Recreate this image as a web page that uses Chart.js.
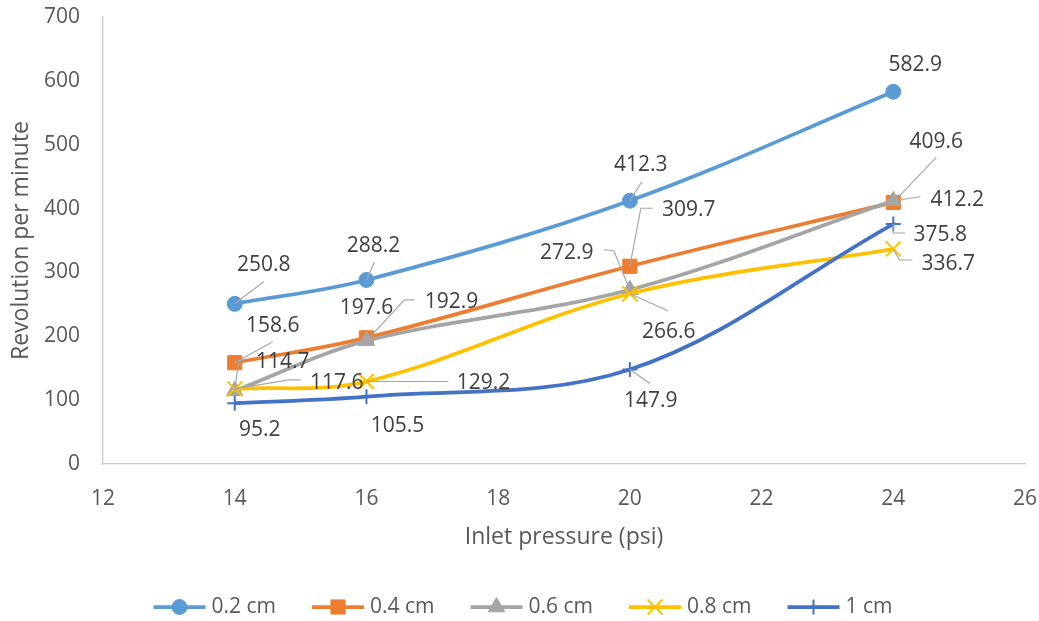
<!DOCTYPE html>
<html>
<head>
<meta charset="utf-8">
<script src="https://cdn.jsdelivr.net/npm/chart.js@4.4.1/dist/chart.umd.min.js"></script>
<style>
  html, body { margin: 0; padding: 0; background: #ffffff; }
  #wrap { width: 1039px; height: 621px; position: relative; }
</style>
</head>
<body>
<div id="wrap"><canvas id="c" width="1039" height="621"></canvas></div>
<script>
// Measured rotor speed against inlet pressure, one series per nozzle size
const pressures = [14, 16, 20, 24];
const seriesNames = ['0.2 cm', '0.4 cm', '0.6 cm', '0.8 cm', '1 cm'];
const rpm02 = [250.8, 288.2, 412.3, 582.9];
const rpm04 = [158.6, 197.6, 309.7, 409.6];
const rpm06 = [114.7, 192.9, 272.9, 412.2];
const rpm08 = [117.6, 129.2, 266.6, 336.7];
const rpm10 = [95.2, 105.5, 147.9, 375.8];
const xTickValues = [12, 14, 16, 18, 20, 22, 24, 26];
const yTickValues = [0, 100, 200, 300, 400, 500, 600, 700];

const seriesValues = [rpm02, rpm04, rpm06, rpm08, rpm10];

// Appearance of each series
const seriesStyles = [
  { color: '#5B9BD5', pointStyle: 'circle',   radius: 7.5,  borderWidth: 1 },
  { color: '#ED7D31', pointStyle: 'rect',     radius: 10,   borderWidth: 1 },
  { color: '#A5A5A5', pointStyle: 'triangle', radius: 9.5,  borderWidth: 1 },
  { color: '#FFC000', pointStyle: 'crossRot', radius: 10.5, borderWidth: 2 },
  { color: '#4472C4', pointStyle: 'cross',    radius: 7.5,  borderWidth: 2 }
];

// Value-label placement: text centre offset from its point, plus optional leader-line bends
const labelLayout = [
  [ { dx: 29, dy: -39, lead: [[29, -22]] },
    { dx: 7,  dy: -34, lead: [[8, -18]] },
    { dx: 11, dy: -36, lead: [[12, -19]] },
    { dx: 22, dy: -27, lead: null } ],
  [ { dx: 38, dy: -37, lead: [[38, -21]] },
    { dx: 0,  dy: -30, lead: null },
    { dx: 59, dy: -56, lead: [[11, -58], [23, -58]] },
    { dx: 43, dy: -60, lead: [[43, -45]] } ],
  [ { dx: 48, dy: -29, lead: [[4, -30], [9, -31]] },
    { dx: 85, dy: -39, lead: [[38, -41], [48, -41]] },
    { dx: -63, dy: -37, lead: [[-16, -39], [-26, -40]] },
    { dx: 64, dy: -1, lead: [[27, -4]] } ],
  [ { dx: 102, dy: -6, lead: [[54, -9], [66, -9]] },
    { dx: 117, dy: 2, lead: [[82, 0]] },
    { dx: 39, dy: 38, lead: [[38, 17]] },
    { dx: 55, dy: 15, lead: [[6, 11], [19, 11]] } ],
  [ { dx: 25, dy: 27, lead: null },
    { dx: 31, dy: 29, lead: null },
    { dx: 21, dy: 31, lead: [[20, 14]] },
    { dx: 47, dy: 11, lead: [[0, 9], [12, 9]] } ]
];

const FONT = "'Open Sans', 'Liberation Sans', Arial, sans-serif";
const TEXT_DARK = '#404040';
const TEXT_AXIS = '#595959';
const HIDDEN = 'rgba(0,0,0,0)';

const datasets = seriesNames.map((name, i) => ({
  label: name,
  data: pressures.map((p, j) => ({ x: p, y: seriesValues[i][j] })),
  borderColor: seriesStyles[i].color,
  backgroundColor: seriesStyles[i].color,
  borderWidth: 3.75,
  tension: 0.35,
  fill: false,
  pointStyle: seriesStyles[i].pointStyle,
  pointRadius: seriesStyles[i].radius,
  pointHoverRadius: seriesStyles[i].radius,
  pointBorderWidth: seriesStyles[i].borderWidth,
  pointBackgroundColor: seriesStyles[i].color,
  pointBorderColor: seriesStyles[i].color,
  order: seriesNames.length - i,
  clip: false
}));

function drawMarker(ctx, style, x, y) {
  ctx.save();
  ctx.fillStyle = style.color;
  ctx.strokeStyle = style.color;
  ctx.lineWidth = style.borderWidth;
  Chart.helpers.drawPoint(ctx, {
    pointStyle: style.pointStyle,
    radius: style.radius,
    rotation: 0,
    borderWidth: style.borderWidth
  }, x, y);
  ctx.restore();
}

// Value labels with grey leader lines
const valueLabels = {
  id: 'valueLabels',
  afterDatasetsDraw(chart) {
    const ctx = chart.ctx;
    ctx.save();
    chart.data.datasets.forEach((ds, i) => {
      const meta = chart.getDatasetMeta(i);
      meta.data.forEach((pt, j) => {
        const place = labelLayout[i][j];
        const x = pt.x, y = pt.y;
        if (place.lead) {
          ctx.beginPath();
          ctx.strokeStyle = '#A6A6A6';
          ctx.lineWidth = 1.2;
          ctx.moveTo(x, y);
          place.lead.forEach(([lx, ly]) => ctx.lineTo(x + lx, y + ly));
          ctx.stroke();
        }
        ctx.fillStyle = TEXT_DARK;
        ctx.font = '21px ' + FONT;
        ctx.textAlign = 'center';
        ctx.textBaseline = 'middle';
        ctx.fillText(ds.data[j].y.toFixed(1), x + place.dx, y + place.dy);
      });
    });
    ctx.restore();
  }
};

// Legend: short line with the series marker, then the series name
const lineLegend = {
  id: 'lineLegend',
  afterDraw(chart) {
    const ctx = chart.ctx;
    ctx.save();
    ctx.font = '21px ' + FONT;
    const lineLen = 52, textGap = 6, itemGap = 36;
    const widths = seriesNames.map(n => lineLen + textGap + ctx.measureText(n).width);
    const total = widths.reduce((a, b) => a + b, 0) + itemGap * (seriesNames.length - 1);
    let x = 523 - total / 2;
    const y = 607;
    seriesNames.forEach((name, i) => {
      const st = seriesStyles[i];
      ctx.beginPath();
      ctx.strokeStyle = st.color;
      ctx.lineWidth = 3.75;
      ctx.moveTo(x, y);
      ctx.lineTo(x + lineLen, y);
      ctx.stroke();
      drawMarker(ctx, st, x + lineLen / 2, y);
      ctx.fillStyle = TEXT_AXIS;
      ctx.textAlign = 'left';
      ctx.textBaseline = 'middle';
      ctx.fillText(name, x + lineLen + textGap, y);
      x += widths[i] + itemGap;
    });
    ctx.restore();
  }
};

new Chart(document.getElementById('c'), {
  type: 'line',
  data: { datasets },
  plugins: [valueLabels, lineLegend],
  options: {
    responsive: false,
    animation: false,
    events: [],
    layout: { autoPadding: false, padding: { top: 17, right: 14, bottom: 0, left: 0 } },
    plugins: {
      legend: { display: false },
      tooltip: { enabled: false },
      title: { display: false }
    },
    scales: {
      x: {
        type: 'linear',
        min: 12,
        max: 26,
        afterBuildTicks: s => { s.ticks = xTickValues.map(v => ({ value: v })); },
        afterFit: s => { s.height = 157; },
        grid: { display: true, drawOnChartArea: false, color: HIDDEN, tickColor: HIDDEN, drawTicks: true, tickLength: 22 },
        border: { display: true, color: '#C9C9C9', width: 1.3 },
        ticks: { font: { family: FONT, size: 21 }, color: TEXT_AXIS, padding: 0, maxRotation: 0, autoSkip: false },
        title: {
          display: true,
          text: 'Inlet pressure (psi)',
          font: { family: FONT, size: 23 },
          color: TEXT_AXIS,
          padding: { top: 0, bottom: 70 }
        }
      },
      y: {
        type: 'linear',
        min: 0,
        max: 700,
        afterBuildTicks: s => { s.ticks = yTickValues.map(v => ({ value: v })); },
        afterFit: s => { s.width = 103; },
        grid: { display: true, drawOnChartArea: false, color: HIDDEN, tickColor: HIDDEN, drawTicks: true, tickLength: 23 },
        border: { display: true, color: '#C9C9C9', width: 1.3 },
        ticks: { font: { family: FONT, size: 21 }, color: TEXT_AXIS, padding: 0 },
        title: {
          display: true,
          text: 'Revolution per minute',
          font: { family: FONT, size: 23 },
          color: TEXT_AXIS,
          padding: { top: 8, bottom: 0 }
        }
      }
    }
  }
});
</script>
</body>
</html>
